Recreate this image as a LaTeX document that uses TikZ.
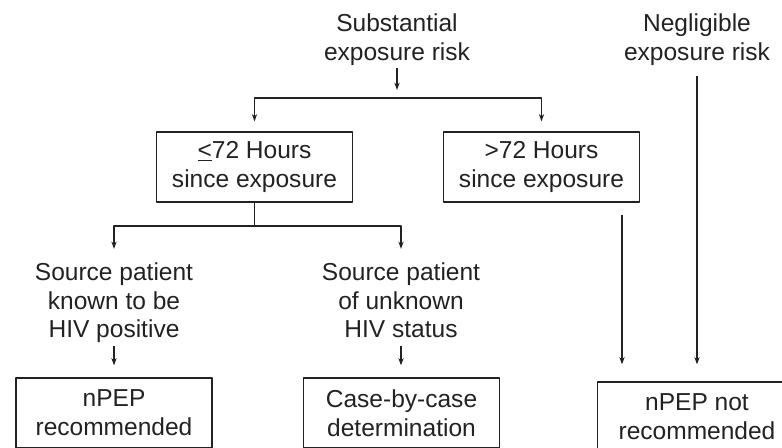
\documentclass[tikz,border=0pt]{standalone}
\usepackage{fontspec}
\setmainfont{Liberation Sans}
\usetikzlibrary{arrows.meta}
\definecolor{ink}{HTML}{222222}
\begin{document}
\begin{tikzpicture}[x=0.75pt,y=-0.75pt,font=\fontsize{18.4}{21.6}\selectfont,line join=round,
  >={Stealth[length=5.5pt,width=4pt]},
  every node/.style={text=ink},
  lbl/.style={align=center,inner sep=2pt},
  box/.style={draw=ink,line width=1pt,align=center,minimum width=147pt,minimum height=52.5pt,inner sep=0pt},
  link/.style={draw=ink,line width=0.8pt}]
\clip (0,0) rectangle (782,448);
% risk
\node[lbl,anchor=north] (sub) at (397,10.5) {Substantial\\exposure risk};
\node[lbl,anchor=north] (neg) at (697,10.5) {Negligible\\exposure risk};
% time since exposure
\node[box] (lt72) at (254.5,167) {\underline{<}72 Hours\\since exposure};
\node[box] (gt72) at (541.5,167) {>72 Hours\\since exposure};
% source patient
\node[lbl,anchor=north] (src1) at (114,259.5) {Source patient\\known to be\\HIV positive};
\node[lbl,anchor=north] (src2) at (401,259.5) {Source patient\\of unknown\\HIV status};
% outcome
\node[box] (rec) at (114,413) {nPEP\\recommended};
\node[box] (case) at (401.5,413) {Case-by-case\\determination};
\node[box,minimum width=149pt] (norec) at (697,417) {nPEP not\\recommended};

\coordinate (fork1) at (397,98);
\coordinate (fork2) at (253,226);
\coordinate (gtout) at (622,215);

\draw[link,->,shorten >=6pt] (sub.south) -- (sub.south |- fork1);
\draw[link,<->,shorten <=7.5pt,shorten >=7.5pt] (lt72.north) -- (lt72.north |- fork1) -- (gt72.north |- fork1) -- (gt72.north);
\draw[link] (lt72.south) -- (lt72.south |- fork2);
\draw[link,<->,shorten <=8pt,shorten >=8pt] (src1.north) -- (src1.north |- fork2) -- (src2.north |- fork2) -- (src2.north);
\draw[link,->,shorten >=9pt] (src1.south) -- (src1.south |- rec.north);
\draw[link,->,shorten >=9pt] (src2.south |- src1.south) -- (src2.south |- case.north);
\draw[link,->,shorten >=12.75pt] (gtout) -- (gtout |- norec.north);
\draw[link,->,shorten <=6pt,shorten >=12.75pt] (neg.south) -- (neg.south |- norec.north);
\end{tikzpicture}
\end{document}
